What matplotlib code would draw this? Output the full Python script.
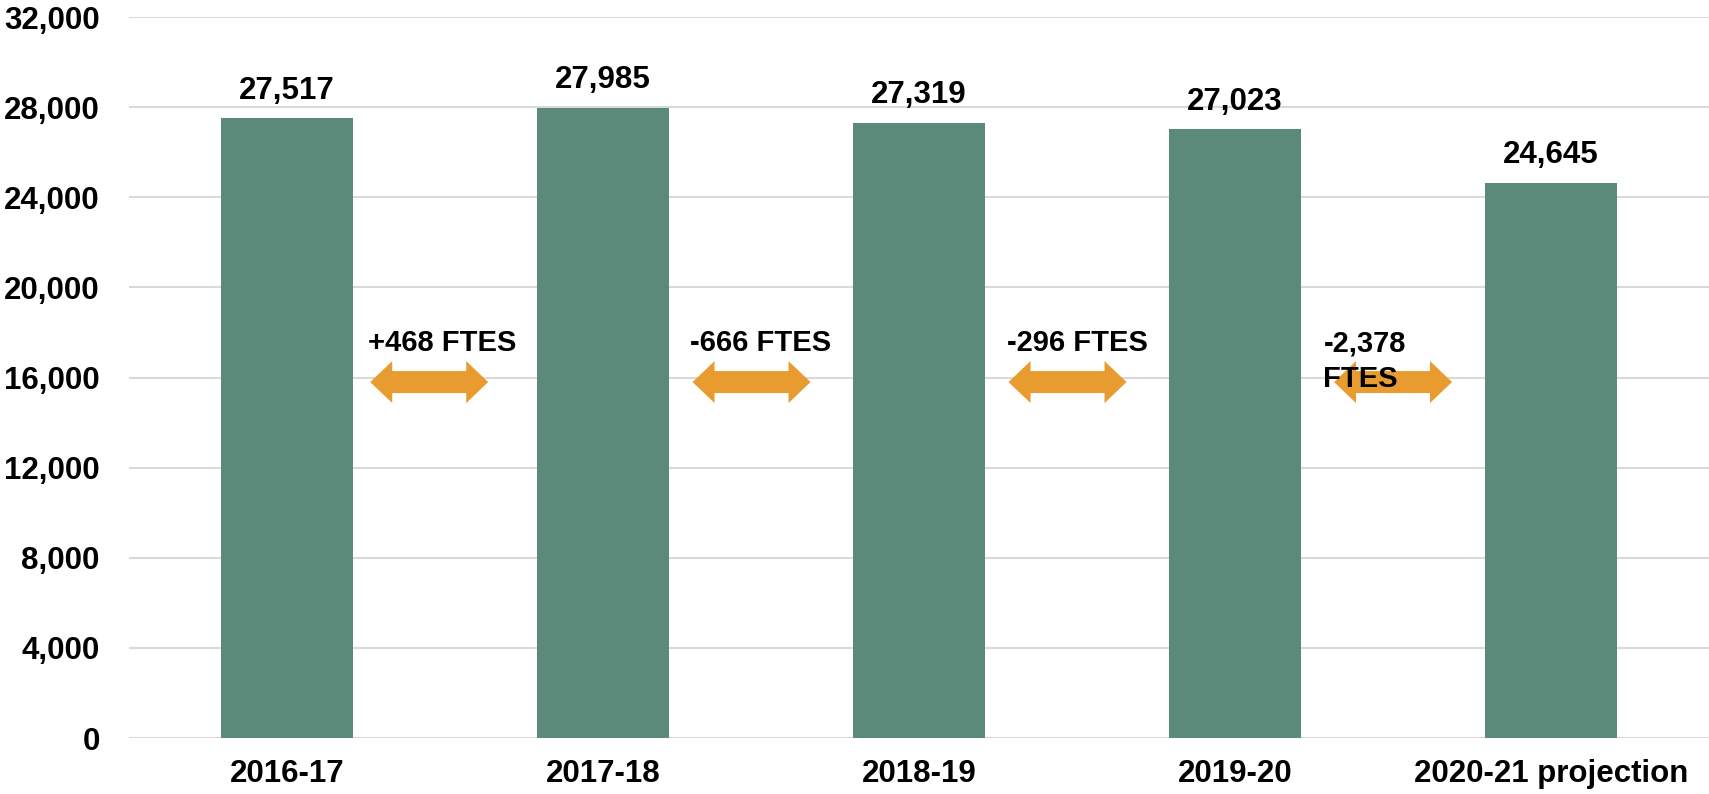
import numpy as np
import matplotlib.pyplot as plt
from matplotlib.patches import Polygon
from matplotlib.transforms import ScaledTranslation

plt.rcParams['font.family'] = ['Liberation Sans', 'DejaVu Sans']
plt.rcParams['font.weight'] = 'bold'

years = ['2016-17', '2017-18', '2018-19', '2019-20', '2020-21 projection']
ftes = [27517, 27985, 27319, 27023, 24645]

# change annotations between bars
change_labels = ['+468 FTES', '-666 FTES', '-296 FTES', '-2,378\nFTES']
arrow_x = [0.45, 1.47, 2.47, 3.50]
arrow_y = 15800
label_x = [0.49, 1.50, 2.50, 3.28]
label_y = [17530, 17530, 17530, 18150]
label_ha = ['center', 'center', 'center', 'left']
label_va = ['center', 'center', 'center', 'top']

bar_color = '#5c8a7a'
arrow_color = '#e89c2f'

fig = plt.figure(figsize=(17.09, 7.94), dpi=100)
ax = fig.add_axes([0.0755, 0.0705, 0.9245, 0.908])

x = np.arange(len(years))
ax.bar(x, ftes, width=0.42, color=bar_color, zorder=3)
for xi, v in zip(x, ftes):
    ax.annotate(f'{v:,}', (xi, v), xytext=(0, 9), textcoords='offset points',
                ha='center', va='bottom', fontsize=22.5, fontweight='bold')

ax.set_xlim(-0.5, 4.5)
ax.set_ylim(0, 32000)
ax.set_yticks(np.arange(0, 32001, 4000))
ax.set_yticklabels([f'{t:,}' for t in range(0, 32001, 4000)])
ax.set_xticks(x)
ax.set_xticklabels(years)
ax.tick_params(axis='y', length=0, pad=21, labelsize=22.5)
ax.tick_params(axis='x', length=0, pad=15, labelsize=22.5)
for s in ax.spines.values():
    s.set_visible(False)
ax.grid(axis='y', color='#d9d9d9', linewidth=1.5, zorder=0)
ax.set_axisbelow(True)

# double-headed arrow shape, in inches around its centre
hl, hh, sh, L = 0.22, 0.21, 0.11, 0.59
shape = np.array([[-L, 0], [-L + hl, hh], [-L + hl, sh], [L - hl, sh], [L - hl, hh],
                  [L, 0], [L - hl, -hh], [L - hl, -sh], [-L + hl, -sh], [-L + hl, -hh]])
for ax_x in arrow_x:
    tr = fig.dpi_scale_trans + ScaledTranslation(ax_x, arrow_y, ax.transData)
    ax.add_patch(Polygon(shape, closed=True, transform=tr, facecolor=arrow_color,
                         edgecolor='none', zorder=4))

for lab, lx, ly, ha, va in zip(change_labels, label_x, label_y, label_ha, label_va):
    ax.text(lx, ly, lab, ha=ha, va=va, fontsize=21, fontweight='bold', zorder=5,
            linespacing=1.35)

fig.savefig('out.png', dpi=100)
